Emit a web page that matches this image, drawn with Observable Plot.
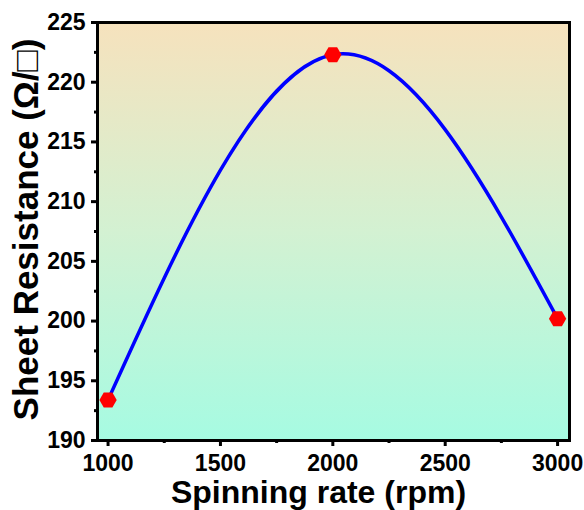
<!DOCTYPE html>
<html>
<head>
<meta charset="utf-8">
<script src="https://cdn.jsdelivr.net/npm/d3@7"></script>
<script src="https://cdn.jsdelivr.net/npm/@observablehq/plot@0.6"></script>
<style>
  html, body { margin: 0; padding: 0; background: #fff; }
</style>
</head>
<body>
<div id="chart"></div>
<script>
const rates = [1000, 2000, 3000];
const resistance = [193.4, 222.3, 200.2];
const xTicks = [1000, 1500, 2000, 2500, 3000];
const xMinor = [1250, 1750, 2250, 2750];
const yTicks = [190, 195, 200, 205, 210, 215, 220, 225];
const yMinor = [192.5, 197.5, 202.5, 207.5, 212.5, 217.5, 222.5];
const xTitle = "Spinning rate (rpm)";
const yTitle = "Sheet Resistance (Ω/□)";

const data = rates.map((r, i) => ({rate: r, res: resistance[i]}));

const defs = () => {
  const d = d3.create("svg:defs");
  const g = d.append("linearGradient").attr("id", "bg").attr("x1", 0).attr("y1", 0).attr("x2", 0).attr("y2", 1);
  g.append("stop").attr("offset", "0%").attr("stop-color", "#f6e2bd");
  g.append("stop").attr("offset", "50%").attr("stop-color", "#d3f1d2");
  g.append("stop").attr("offset", "100%").attr("stop-color", "#a6fbe2");
  return d.node();
};

const chart = Plot.plot({
  width: 584,
  height: 510,
  marginLeft: 97,
  marginRight: 15,
  marginTop: 22,
  marginBottom: 70,
  style: {fontFamily: "'Liberation Sans', Arial, sans-serif", fontWeight: "bold", fontSize: "23px", color: "black", background: "white"},
  x: {domain: [953, 3053]},
  y: {domain: [190, 225]},
  marks: [
    defs,
    Plot.frame({fill: "url(#bg)"}),
    Plot.line(data, {x: "rate", y: "res", curve: "natural", stroke: "#0000ff", strokeWidth: 3.5}),
    Plot.dot(data, {x: "rate", y: "res", symbol: "hexagon", r: 7.5, fill: "#ff0000", stroke: "none", rotate: 30}),
    Plot.frame({stroke: "black", strokeWidth: 3}),
    Plot.axisX({ticks: xTicks, tickFormat: d => String(d), tickSize: 6, tickPadding: 8, strokeWidth: 3, label: null, fontSize: 23, fontWeight: "bold"}),
    Plot.axisX({ticks: xMinor, tickSize: 3, strokeWidth: 3, text: null, label: null}),
    Plot.axisY({ticks: yTicks, tickFormat: d => String(d), tickSize: 6, tickPadding: 6, strokeWidth: 3, label: null, fontSize: 23, fontWeight: "bold"}),
    Plot.axisY({ticks: yMinor, tickSize: 3, strokeWidth: 3, text: null, label: null}),
    Plot.text([xTitle], {frameAnchor: "bottom", textAnchor: "middle", lineAnchor: "middle", dx: -15, dy: 52, fontSize: 32, fontWeight: "bold", text: d => d}),
    Plot.text([yTitle], {frameAnchor: "left", textAnchor: "middle", lineAnchor: "middle", dx: -71, dy: -2, rotate: -90, fontSize: 35, fontWeight: "bold", text: d => d})
  ]
});
document.getElementById("chart").appendChild(chart);
</script>
</body>
</html>
